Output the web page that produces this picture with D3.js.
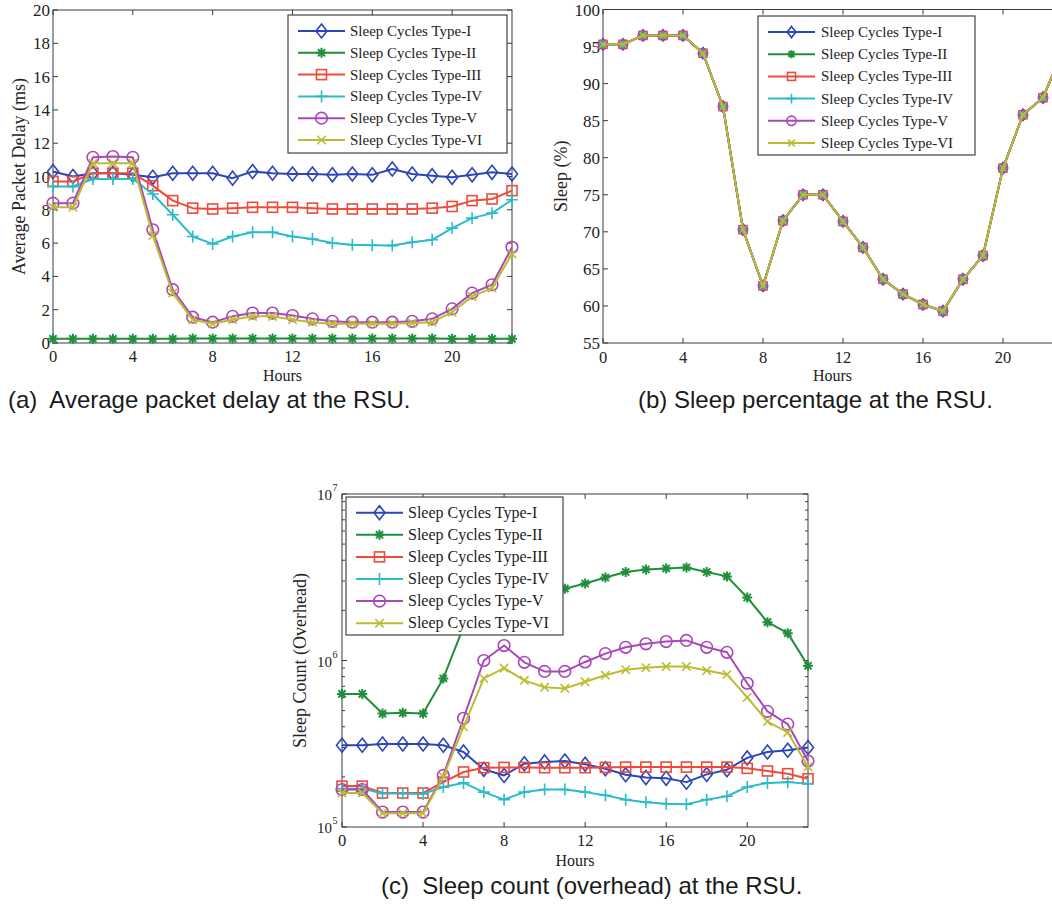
<!DOCTYPE html>
<html><head><meta charset="utf-8">
<script src="https://cdn.jsdelivr.net/npm/d3@7"></script>
<style>body{margin:0;background:#fff}svg{display:block}</style>
</head><body>
<script>
// ---------- data ----------
const hours = [0,1,2,3,4,5,6,7,8,9,10,11,12,13,14,15,16,17,18,19,20,21,22,23];
const seriesNames = ["Sleep Cycles Type-I","Sleep Cycles Type-II","Sleep Cycles Type-III","Sleep Cycles Type-IV","Sleep Cycles Type-V","Sleep Cycles Type-VI"];
const xTicks = [0,4,8,12,16,20];
const delayTicks = [0,2,4,6,8,10,12,14,16,18,20];
const sleepTicks = [55,60,65,70,75,80,85,90,95,100];
const countTickExps = [5,6,7];

const delayI   = [10.3,10.0,10.2,10.2,10.1,9.95,10.2,10.2,10.2,9.9,10.3,10.2,10.15,10.15,10.1,10.15,10.1,10.45,10.15,10.05,9.95,10.1,10.25,10.15];
const delayII  = [0.25,0.25,0.25,0.25,0.25,0.25,0.25,0.27,0.27,0.27,0.27,0.27,0.27,0.27,0.27,0.27,0.27,0.27,0.27,0.27,0.25,0.25,0.25,0.25];
const delayIII = [9.7,9.7,10.2,10.2,10.2,9.45,8.55,8.1,8.05,8.1,8.15,8.15,8.15,8.1,8.05,8.05,8.05,8.05,8.05,8.1,8.2,8.55,8.65,9.15];
const delayIV  = [9.4,9.4,9.85,9.85,9.85,8.95,7.7,6.4,5.95,6.4,6.65,6.65,6.4,6.25,6.0,5.9,5.87,5.85,6.05,6.2,6.9,7.5,7.8,8.6];
const delayV   = [8.4,8.4,11.15,11.2,11.15,6.8,3.2,1.55,1.25,1.6,1.8,1.8,1.65,1.45,1.3,1.25,1.25,1.25,1.3,1.45,2.05,3.0,3.5,5.75];
const delayVI  = [8.15,8.15,10.8,10.8,10.8,6.45,3.0,1.4,1.15,1.4,1.6,1.6,1.4,1.25,1.15,1.15,1.15,1.15,1.2,1.25,1.85,2.8,3.3,5.35];

const sleepPct = [95.3,95.3,96.5,96.5,96.5,94.1,86.9,70.3,62.7,71.5,75.0,75.0,71.4,67.9,63.6,61.6,60.2,59.3,63.6,66.8,78.6,85.8,88.1,94.5];

const countI   = [3.1e5,3.1e5,3.15e5,3.15e5,3.15e5,3.1e5,2.82e5,2.22e5,2.04e5,2.4e5,2.46e5,2.49e5,2.38e5,2.24e5,2.06e5,1.98e5,1.96e5,1.86e5,2.07e5,2.21e5,2.6e5,2.82e5,2.89e5,3.0e5];
const countII  = [6.3e5,6.3e5,4.8e5,4.85e5,4.8e5,7.8e5,1.6e6,2.05e6,2.3e6,2.45e6,2.55e6,2.7e6,2.9e6,3.15e6,3.4e6,3.52e6,3.57e6,3.62e6,3.4e6,3.2e6,2.39e6,1.7e6,1.46e6,9.3e5];
const countIII = [1.76e5,1.76e5,1.6e5,1.6e5,1.6e5,1.86e5,2.14e5,2.27e5,2.28e5,2.28e5,2.27e5,2.27e5,2.27e5,2.28e5,2.29e5,2.29e5,2.29e5,2.29e5,2.29e5,2.29e5,2.25e5,2.17e5,2.09e5,1.95e5];
const countIV  = [1.7e5,1.7e5,1.59e5,1.59e5,1.58e5,1.74e5,1.84e5,1.62e5,1.46e5,1.62e5,1.68e5,1.68e5,1.62e5,1.55e5,1.46e5,1.41e5,1.38e5,1.37e5,1.46e5,1.53e5,1.74e5,1.84e5,1.86e5,1.82e5];
const countV   = [1.68e5,1.68e5,1.23e5,1.23e5,1.23e5,2.04e5,4.5e5,1.0e6,1.23e6,9.75e5,8.6e5,8.6e5,9.8e5,1.1e6,1.2e6,1.26e6,1.3e6,1.32e6,1.2e6,1.12e6,7.3e5,4.95e5,4.15e5,2.49e5];
const countVI  = [1.6e5,1.6e5,1.21e5,1.21e5,1.21e5,2.0e5,4.0e5,7.8e5,9.0e5,7.6e5,6.9e5,6.8e5,7.45e5,8.15e5,8.8e5,9.05e5,9.2e5,9.2e5,8.7e5,8.25e5,6.0e5,4.3e5,3.7e5,2.3e5];

// ---------- style ----------
const colors = ["#2c46b8","#1f8f3c","#ef4a3a","#2bbccb","#a848b8","#bcbc32"];
const markers = ["diamond","star","square","plus","circle","cross"];
const serif = "'Liberation Serif','Times New Roman',serif";
const textCol = "#222";
const axisCol = "#3a3a3a";

const W = 1052, H = 907;
const svg = d3.select("body").append("svg").attr("width", W).attr("height", H)
  .attr("viewBox", `0 0 ${W} ${H}`);
svg.append("rect").attr("width", W).attr("height", H).attr("fill", "#fff");

function drawMarker(g, type, x, y, color, s) {
  const k = s || 1;
  const st = {stroke: color, "stroke-width": 1.6, fill: "none"};
  let el;
  if (type === "diamond") {
    el = g.append("path").attr("d", `M${x},${y-7*k}L${x+5.5*k},${y}L${x},${y+7*k}L${x-5.5*k},${y}Z`);
  } else if (type === "square") {
    el = g.append("rect").attr("x", x-5*k).attr("y", y-5*k).attr("width", 10*k).attr("height", 10*k);
  } else if (type === "circle") {
    el = g.append("circle").attr("cx", x).attr("cy", y).attr("r", 5.8*k);
  } else if (type === "plus") {
    el = g.append("path").attr("d", `M${x-6*k},${y}H${x+6*k}M${x},${y-6*k}V${y+6*k}`);
  } else if (type === "cross") {
    const d = 4.2*k;
    el = g.append("path").attr("d", `M${x-d},${y-d}L${x+d},${y+d}M${x-d},${y+d}L${x+d},${y-d}`);
  } else if (type === "star") {
    const d = 5*k, e = 3.6*k;
    el = g.append("path").attr("d", `M${x-d},${y}H${x+d}M${x},${y-d}V${y+d}M${x-e},${y-e}L${x+e},${y+e}M${x-e},${y+e}L${x+e},${y-e}`);
    st["stroke-width"] = 2;
  }
  Object.entries(st).forEach(([a, v]) => el.attr(a, v));
}

function panel(o) {
  const g = svg.append("g");
  const x = d3.scaleLinear().domain([0, 23]).range(o.xRange);
  const y = o.y;
  const [x0, x1] = o.xRange;
  const [yb, yt] = y.range();

  // axes box
  g.append("rect").attr("x", x0).attr("y", yt).attr("width", x1 - x0).attr("height", yb - yt)
    .attr("fill", "none").attr("stroke", axisCol).attr("stroke-width", 1);

  // x ticks (bottom & top, inward)
  const tl = 5;
  xTicks.forEach(t => {
    const xp = x(t);
    g.append("line").attr("x1", xp).attr("x2", xp).attr("y1", yb).attr("y2", yb - tl).attr("stroke", axisCol);
    g.append("line").attr("x1", xp).attr("x2", xp).attr("y1", yt).attr("y2", yt + tl).attr("stroke", axisCol);
    g.append("text").attr("x", xp).attr("y", o.xLabelY).attr("text-anchor", "middle")
      .attr("font-family", serif).attr("font-size", 16.5).attr("fill", textCol).text(t);
  });
  g.append("text").attr("x", (x0 + Math.min(x1, W + 10)) / 2).attr("y", o.hoursY)
    .attr("text-anchor", "middle").attr("font-family", serif).attr("font-size", 16).attr("fill", textCol).text("Hours");

  // y ticks
  if (o.log) {
    countTickExps.forEach(e => {
      const yp = y(Math.pow(10, e));
      g.append("line").attr("x1", x0).attr("x2", x0 + tl).attr("y1", yp).attr("y2", yp).attr("stroke", axisCol);
      g.append("line").attr("x1", x1).attr("x2", x1 - tl).attr("y1", yp).attr("y2", yp).attr("stroke", axisCol);
      g.append("text").attr("x", x0 - 10).attr("y", yp + 6).attr("text-anchor", "end")
        .attr("font-family", serif).attr("font-size", 15).attr("fill", textCol).text("10");
      g.append("text").attr("x", x0 - 9.5).attr("y", yp - 3).attr("text-anchor", "start")
        .attr("font-family", serif).attr("font-size", 10).attr("fill", textCol).text(e);
      if (e < 7) {
        for (let m = 2; m <= 9; m++) {
          const ym = y(m * Math.pow(10, e));
          g.append("line").attr("x1", x0).attr("x2", x0 + 3).attr("y1", ym).attr("y2", ym).attr("stroke", axisCol);
          g.append("line").attr("x1", x1).attr("x2", x1 - 3).attr("y1", ym).attr("y2", ym).attr("stroke", axisCol);
        }
      }
    });
  } else {
    o.yTicks.forEach(t => {
      const yp = y(t);
      g.append("line").attr("x1", x0).attr("x2", x0 + tl).attr("y1", yp).attr("y2", yp).attr("stroke", axisCol);
      g.append("line").attr("x1", x1).attr("x2", x1 - tl).attr("y1", yp).attr("y2", yp).attr("stroke", axisCol);
      g.append("text").attr("x", x0 - 3).attr("y", yp + 6).attr("text-anchor", "end")
        .attr("font-family", serif).attr("font-size", 17).attr("fill", textCol).text(t);
    });
  }

  // y label
  g.append("text").attr("transform", `translate(${o.yLabelX},${(yb + yt) / 2}) rotate(-90)`)
    .attr("text-anchor", "middle").attr("font-family", serif).attr("font-size", 18).attr("fill", textCol)
    .text(o.yLabel);

  // series
  const line = d3.line().x((d, i) => x(hours[i])).y(d => y(d));
  o.series.forEach((vals, si) => {
    const sg = g.append("g");
    sg.append("path").attr("d", line(vals)).attr("fill", "none").attr("stroke", colors[si])
      .attr("stroke-width", o.lw || 2).attr("stroke-linejoin", "round");
    vals.forEach((v, i) => drawMarker(sg, markers[si], x(hours[i]), y(v), colors[si], o.ms));
  });

  // legend
  const L = o.legend;
  const lg = g.append("g");
  lg.append("rect").attr("x", L.x).attr("y", L.y).attr("width", L.w).attr("height", L.h)
    .attr("fill", "#fff").attr("stroke", "#444").attr("stroke-width", 1.2);
  seriesNames.forEach((name, si) => {
    const cy = L.row0 + si * L.dy;
    lg.append("line").attr("x1", L.lx0).attr("x2", L.lx1).attr("y1", cy).attr("y2", cy)
      .attr("stroke", colors[si]).attr("stroke-width", o.lw || 2);
    drawMarker(lg, markers[si], (L.lx0 + L.lx1) / 2, cy, colors[si], o.ms);
    lg.append("text").attr("x", L.tx).attr("y", cy + 5).attr("font-family", serif)
      .attr("font-size", L.fs).attr("fill", textCol).text(name);
  });
}

// (a) Average packet delay
panel({
  xRange: [53, 512],
  y: d3.scaleLinear().domain([0, 20]).range([343, 10]),
  yTicks: delayTicks,
  series: [delayI, delayII, delayIII, delayIV, delayV, delayVI],
  xLabelY: 362, hoursY: 381,
  yLabel: "Average Packet Delay (ms)", yLabelX: 25,
  legend: {x: 288, y: 15, w: 219, h: 138, row0: 31, dy: 21.8, lx0: 298, lx1: 345, tx: 350, fs: 15}
});

// (b) Sleep percentage (all six types coincide)
panel({
  xRange: [603, 1063],
  y: d3.scaleLinear().domain([55, 100]).range([343, 9.5]),
  yTicks: sleepTicks,
  series: [sleepPct, sleepPct, sleepPct, sleepPct, sleepPct, sleepPct],
  xLabelY: 363, hoursY: 381,
  yLabel: "Sleep (%)", yLabelX: 567,
  ms: 0.8, lw: 2,
  legend: {x: 758, y: 16, w: 217, h: 139, row0: 32, dy: 22.2, lx0: 768, lx1: 815, tx: 821, fs: 15}
});

// (c) Sleep count (overhead), log scale
panel({
  xRange: [342, 808],
  y: d3.scaleLog().domain([1e5, 1e7]).range([827, 494]),
  log: true,
  series: [countI, countII, countIII, countIV, countV, countVI],
  xLabelY: 846, hoursY: 866,
  yLabel: "Sleep Count (Overhead)", yLabelX: 306,
  legend: {x: 346, y: 497, w: 217, h: 138, row0: 512.7, dy: 22.1, lx0: 356, lx1: 403, tx: 408, fs: 16}
});

// captions
const sans = "'Liberation Sans',Arial,sans-serif";
const caps = [
  {x: 8, y: 408, t: "(a)  Average packet delay at the RSU."},
  {x: 638, y: 408, t: "(b) Sleep percentage at the RSU."},
  {x: 381, y: 894, t: "(c)  Sleep count (overhead) at the RSU."}
];
caps.forEach(c => svg.append("text").attr("x", c.x).attr("y", c.y).attr("font-family", sans)
  .attr("font-size", 24).attr("fill", "#1a1a1a").attr("xml:space", "preserve").style("white-space", "pre").text(c.t));
</script>
</body></html>
